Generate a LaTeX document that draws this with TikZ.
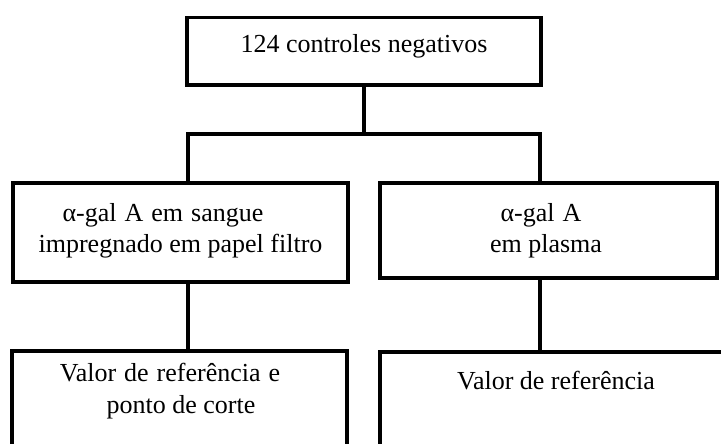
\documentclass[tikz,border=0pt]{standalone}
\usepackage{fontspec}
\setmainfont{Liberation Serif}
\begin{document}
\begin{tikzpicture}[x=1pt,y=-1pt,
  box/.style={draw, line width=3.2pt, rectangle, inner sep=0pt, outer sep=0pt},
  conn/.style={line width=3.2pt},
  txt/.style={anchor=base, inner sep=0pt, font=\fontsize{26}{30}\selectfont}]
\useasboundingbox (0,0) rectangle (721,444);
\clip (0,0) rectangle (721,444);
% boxes
\node[box, minimum width=354, minimum height=67.5] (top) at (364,51.25) {};
\node[box, minimum width=335, minimum height=99] (ml) at (180.5,232.5) {};
\node[box, minimum width=337, minimum height=95] (mr) at (548.5,230.5) {};
\node[box, minimum width=335, minimum height=129] (bl) at (179.5,415.5) {};
\node[box, minimum width=390, minimum height=128] (br) at (575,416) {};
% texts
\node[txt] (t1) at (364,53) {124 controles negativos};
\node[txt] (ml1) at (163,221.5) {\spaceskip=8pt\relax α-gal A em sangue};
\node[txt] (ml2) at (180.5,252) {impregnado em papel filtro};
\node[txt] (mr1) at (541,221.7) {\spaceskip=8pt\relax α-gal A};
\node[txt] (mr2) at (546,252) {em plasma};
\node[txt] (bl1) at (170,381.7) {\spaceskip=8pt\relax Valor de referência e};
\node[txt] (bl2) at (181,413) {ponto de corte};
\node[txt] (br1) at (556,389) {Valor de referência};
% connectors
\coordinate (jl) at (188,134);
\coordinate (jr) at (540,134);
\draw[conn] (top.south) -- (top.south |- jl);
\draw[conn] ([xshift=-1.6pt]jl) -- ([xshift=1.6pt]jr);
\draw[conn] (jl) -- (jl |- ml.north);
\draw[conn] (jr) -- (jr |- mr.north);
\draw[conn] (jl |- ml.south) -- (jl |- bl.north);
\draw[conn] (jr |- mr.south) -- (jr |- br.north);
\end{tikzpicture}
\end{document}
